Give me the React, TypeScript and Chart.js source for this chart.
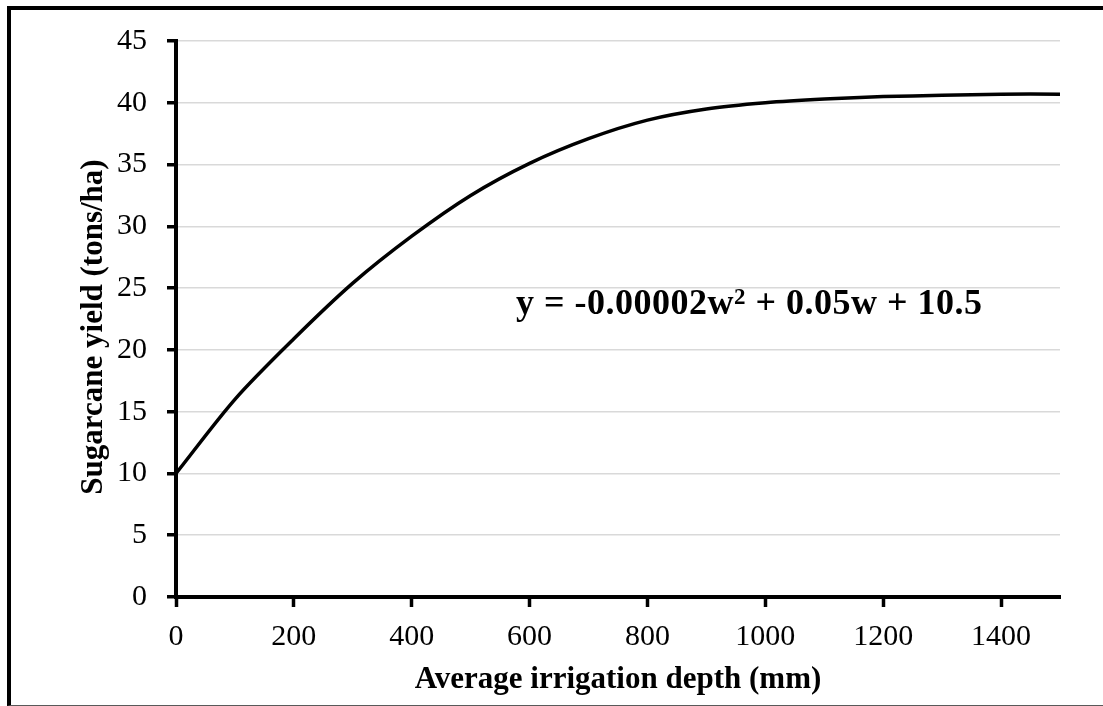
import React, { useEffect, useRef } from "react";
import { Chart, registerables } from "chart.js";

Chart.register(...registerables);

// ---- data ----
const depthMm = [0, 100, 200, 300, 400, 500, 600, 700, 800, 900, 1000, 1100, 1200, 1300, 1400, 1500];
const yieldTons = [10, 16.0, 20.9, 25.4, 29.2, 32.5, 35.1, 37.1, 38.6, 39.5, 40.0, 40.3, 40.5, 40.6, 40.7, 40.7];

const xTitle = "Average irrigation depth (mm)";
const yTitle = "Sugarcane yield (tons/ha)";
const eqMain = "y = -0.00002w";
const eqSup = "2";
const eqRest = " + 0.05w + 10.5";

const SERIF = '"Liberation Serif", "Times New Roman", serif';

const textPlugin = {
  id: "extraText",
  afterDraw(chart: any) {
    const { ctx, scales, chartArea } = chart;
    // y-axis title (slightly below the plot centre, as in the reference)
    ctx.save();
    ctx.fillStyle = "#000";
    ctx.font = `bold 31px ${SERIF}`;
    ctx.textAlign = "center";
    ctx.textBaseline = "middle";
    ctx.translate(82.6, (chartArea.top + chartArea.bottom) / 2 + 8);
    ctx.rotate(-Math.PI / 2);
    ctx.fillText(yTitle, 0, 0);
    ctx.restore();

    // regression equation
    const x0 = scales.x.getPixelForValue(577);
    const yBase = scales.y.getPixelForValue(22.9);
    ctx.save();
    ctx.fillStyle = "#000";
    ctx.textBaseline = "alphabetic";
    ctx.textAlign = "left";
    try { (ctx as any).letterSpacing = "0.5px"; } catch (e) {}
    ctx.font = `bold 36px ${SERIF}`;
    ctx.fillText(eqMain, x0, yBase);
    let x = x0 + ctx.measureText(eqMain).width;
    ctx.font = `bold 23px ${SERIF}`;
    ctx.fillText(eqSup, x, yBase - 10);
    x += ctx.measureText(eqSup).width;
    ctx.font = `bold 36px ${SERIF}`;
    ctx.fillText(eqRest, x, yBase);
    ctx.restore();
  },
};

export default function App() {
  const ref = useRef<HTMLCanvasElement | null>(null);

  useEffect(() => {
    if (!ref.current) return;
    const chart = new Chart(ref.current, {
      type: "line",
      data: {
        datasets: [
          {
            data: depthMm.map((d, i) => ({ x: d, y: yieldTons[i] })),
            borderColor: "#000",
            borderWidth: 3.5,
            pointRadius: 0,
            tension: 0.3,
            fill: false,
          },
        ],
      },
      options: {
        responsive: false,
        animation: false,
        devicePixelRatio: 1,
        layout: { padding: { left: 0, top: 23, right: 43, bottom: 0 } },
        plugins: { legend: { display: false }, tooltip: { enabled: false } },
        scales: {
          x: {
            type: "linear",
            min: 0,
            max: 1500,
            afterFit: (s: any) => { s.height = 107; },
            ticks: {
              stepSize: 200,
              includeBounds: false,
              color: "#000",
              font: { family: SERIF, size: 30 },
              padding: 12,
              maxRotation: 0,
              callback: (v: any) => String(v),
            },
            grid: {
              display: true,
              drawOnChartArea: false,
              drawTicks: true,
              tickLength: 10,
              tickColor: "#000",
              tickWidth: 3.5,
            },
            border: { display: true, color: "#000", width: 4 },
            title: {
              display: true,
              text: xTitle,
              color: "#000",
              font: { family: SERIF, size: 31, weight: "bold" },
              padding: { top: 0, bottom: 5 },
            },
          },
          y: {
            type: "linear",
            min: 0,
            max: 45,
            afterFit: (s: any) => { s.width = 165; },
            ticks: {
              stepSize: 5,
              color: "#000",
              font: { family: SERIF, size: 30 },
              padding: 20,
              callback: (v: any) => String(v),
            },
            grid: {
              color: "#d9d9d9",
              lineWidth: 1.5,
              tickLength: 9,
              tickColor: "#000",
              tickWidth: 3.5,
            },
            border: { display: true, color: "#000", width: 4 },
            title: { display: false },
          },
        },
      },
      plugins: [textPlugin],
    } as any);
    return () => chart.destroy();
  }, []);

  return (
    <div
      style={{
        position: "fixed",
        left: 7,
        top: 6,
        width: 1096,
        height: 700,
        boxSizing: "border-box",
        borderLeft: "4px solid #000",
        borderTop: "4px solid #000",
        borderBottom: "1px solid #595959",
        background: "#fff",
        overflow: "hidden",
      }}
    >
      <canvas ref={ref} width={1092} height={701} style={{ position: "absolute", left: 0, top: -7 }} />
    </div>
  );
}
